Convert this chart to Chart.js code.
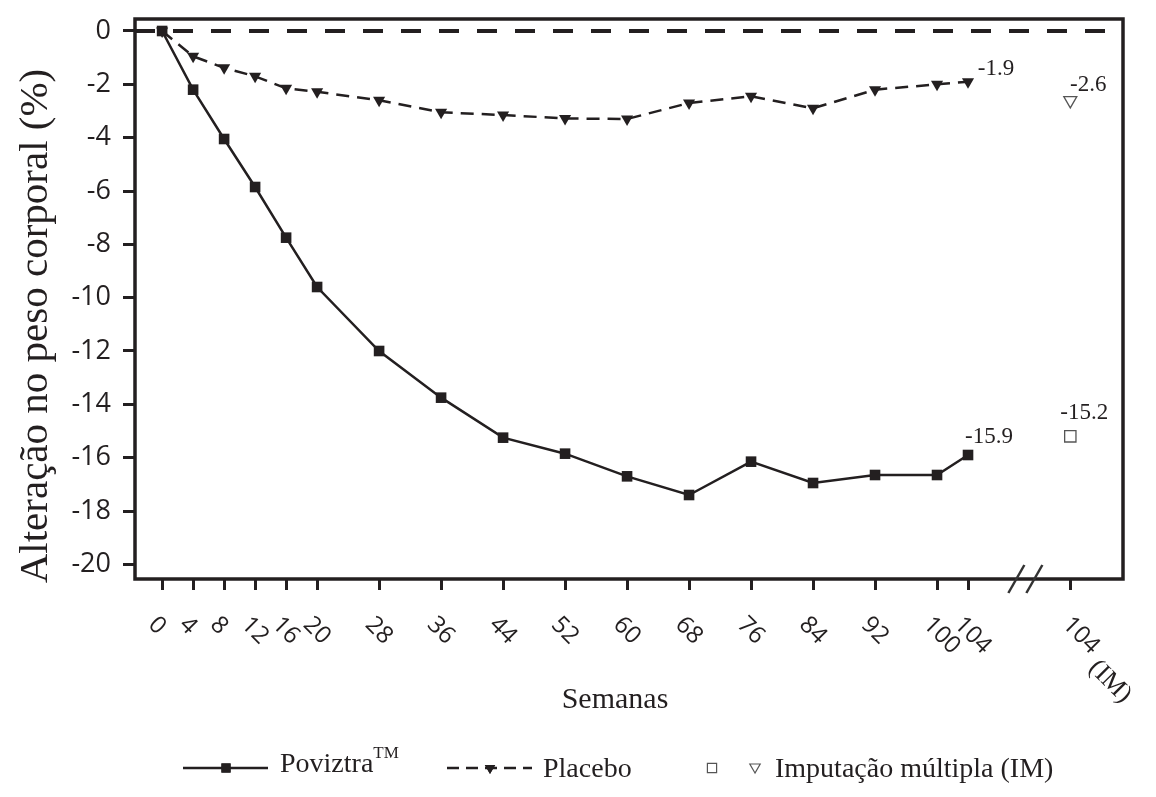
<!DOCTYPE html>
<html lang="pt">
<head>
<meta charset="utf-8">
<title>Alteração no peso corporal</title>
<script src="https://cdn.jsdelivr.net/npm/chart.js@4.4.1/dist/chart.umd.min.js"></script>
<style>
  html, body { margin: 0; padding: 0; background: #fff; }
  #wrap { width: 1156px; height: 797px; }
</style>
</head>
<body>
<div id="wrap"><canvas id="chart" width="1156" height="797"></canvas></div>
<script>
// Data
const weeks = [0, 4, 8, 12, 16, 20, 28, 36, 44, 52, 60, 68, 76, 84, 92, 100, 104];
const poviztra = [0, -2.2, -4.05, -5.85, -7.75, -9.6, -12.0, -13.75, -15.25, -15.85, -16.7, -17.4, -16.15, -16.95, -16.65, -16.65, -15.9];
const placebo = [0, -0.95, -1.38, -1.7, -2.15, -2.28, -2.6, -3.05, -3.15, -3.28, -3.3, -2.7, -2.45, -2.9, -2.2, -2.0, -1.9];
const imPoviztra = -15.2;
const imPlacebo = -2.6;
const imWeek = 117.2;      // the "104 (IM)" column on the week axis
const breakWeek = 111.4;   // axis break marks
const xTickValues = weeks.concat([imWeek]);
const xTickLabels = weeks.map(String).concat(['104']);
const yTickValues = [0, -2, -4, -6, -8, -10, -12, -14, -16, -18, -20];

const INK = '#231f20';
const SERIF = '"Liberation Serif", "Times New Roman", serif';
const SANS = '"Open Sans", sans-serif';

const pts = (xs, ys) => xs.map((x, i) => ({ x: x, y: ys[i] }));

// dashed zero line, frame, break marks, rotated week labels, titles, legend
const decorations = {
    id: 'decorations',
    beforeDatasetsDraw(chart) {
        const { ctx, chartArea } = chart;
        const y0 = chart.scales.y.getPixelForValue(0);
        ctx.save();
        ctx.strokeStyle = INK;
        ctx.lineWidth = 4;
        ctx.setLineDash([20, 18]);
        ctx.beginPath();
        ctx.moveTo(chartArea.left, y0);
        ctx.lineTo(chartArea.right, y0);
        ctx.stroke();
        ctx.restore();
    },
    afterDraw(chart) {
        const { ctx, chartArea } = chart;
        const xs = chart.scales.x;
        ctx.save();

        // frame
        ctx.strokeStyle = INK;
        ctx.lineWidth = 3.5;
        ctx.strokeRect(chartArea.left, chartArea.top, chartArea.right - chartArea.left, chartArea.bottom - chartArea.top);

        // axis break
        const bx = xs.getPixelForValue(breakWeek);
        const by = chartArea.bottom;
        ctx.lineWidth = 2.5;
        ctx.strokeStyle = '#333';
        [-9, 9].forEach(off => {
            ctx.beginPath();
            ctx.moveTo(bx + off - 8, by + 14);
            ctx.lineTo(bx + off + 8, by - 14);
            ctx.stroke();
        });

        // rotated week labels
        ctx.fillStyle = INK;
        xTickValues.forEach((v, i) => {
            const px = xs.getPixelForValue(v);
            const shift = v === imWeek ? 6 : 0;
            ctx.save();
            ctx.translate(px - 10 + shift, chartArea.bottom + 42);
            ctx.rotate(Math.PI / 4);
            ctx.font = '24px ' + SANS;
            ctx.textAlign = 'left';
            ctx.textBaseline = 'middle';
            ctx.fillText(xTickLabels[i], 0, 0);
            if (v === imWeek) {
                const w = ctx.measureText(xTickLabels[i]).width;
                ctx.font = '26px ' + SERIF;
                ctx.fillText('(IM)', w + 8, 12);
            }
            ctx.restore();
        });

        // value labels next to the last points
        const valueLabels = [
            { ds: 0, dx: 21, dy: -12 },
            { ds: 1, dx: 28, dy: -7 },
            { ds: 2, dx: 14, dy: -17 },
            { ds: 3, dx: 18, dy: -9 }
        ];
        ctx.font = '23px ' + SERIF;
        ctx.textAlign = 'center';
        ctx.textBaseline = 'alphabetic';
        valueLabels.forEach(l => {
            const meta = chart.getDatasetMeta(l.ds);
            const el = meta.data[meta.data.length - 1];
            const data = chart.data.datasets[l.ds].data;
            const val = data[data.length - 1].y;
            ctx.fillText(val.toFixed(1), el.x + l.dx, el.y + l.dy);
        });

        // axis titles
        ctx.font = '30px ' + SERIF;
        ctx.fillText('Semanas', 615, 708);
        ctx.save();
        ctx.translate(47, 326);
        ctx.rotate(-Math.PI / 2);
        ctx.font = '41px ' + SERIF;
        ctx.fillText('Alteração no peso corporal (%)', 0, 0);
        ctx.restore();

        // legend
        const ly = 768;
        ctx.strokeStyle = INK;
        ctx.lineWidth = 2.5;
        ctx.beginPath();
        ctx.moveTo(183, ly); ctx.lineTo(268, ly);
        ctx.stroke();
        ctx.setLineDash([12, 7]);
        ctx.beginPath();
        ctx.moveTo(447, ly); ctx.lineTo(532, ly);
        ctx.stroke();
        ctx.setLineDash([]);

        const drawPoint = Chart.helpers.drawPoint;
        ctx.fillStyle = INK;
        drawPoint(ctx, { pointStyle: 'rect', radius: 6.5, rotation: 0, borderWidth: 0 }, 226, ly);
        ctx.fill();
        drawPoint(ctx, { pointStyle: 'triangle', radius: 6, rotation: 180, borderWidth: 0 }, 490, ly);
        ctx.fill();
        ctx.fillStyle = '#fff';
        ctx.strokeStyle = '#555';
        ctx.lineWidth = 1.2;
        drawPoint(ctx, { pointStyle: 'rect', radius: 6.5, rotation: 0, borderWidth: 1.2 }, 712, ly);
        drawPoint(ctx, { pointStyle: 'triangle', radius: 6, rotation: 180, borderWidth: 1.2 }, 755, ly - 1);

        ctx.fillStyle = INK;
        ctx.textAlign = 'left';
        ctx.font = '28px ' + SERIF;
        ctx.fillText('Poviztra', 280, 772);
        const pw = ctx.measureText('Poviztra').width;
        ctx.font = '17px ' + SERIF;
        ctx.fillText('TM', 280 + pw, 758);
        ctx.font = '28px ' + SERIF;
        ctx.fillText('Placebo', 543, 777);
        ctx.fillText('Imputação múltipla (IM)', 775, 777);

        ctx.restore();
    }
};

new Chart(document.getElementById('chart'), {
    type: 'line',
    data: {
        datasets: [
            {
                label: 'Poviztra',
                data: pts(weeks, poviztra),
                borderColor: INK,
                backgroundColor: INK,
                borderWidth: 2.5,
                pointStyle: 'rect',
                pointRadius: 7.5,
                pointBorderWidth: 0,
                tension: 0
            },
            {
                label: 'Placebo',
                data: pts(weeks, placebo),
                borderColor: INK,
                backgroundColor: INK,
                borderWidth: 2.5,
                borderDash: [13, 8],
                pointStyle: 'triangle',
                pointRotation: 180,
                pointRadius: 7,
                pointBorderWidth: 0,
                tension: 0
            },
            {
                label: 'Poviztra (IM)',
                data: [{ x: imWeek, y: imPoviztra }],
                showLine: false,
                pointStyle: 'rect',
                pointRadius: 8,
                pointBackgroundColor: '#fff',
                pointBorderColor: '#555',
                pointBorderWidth: 1.3
            },
            {
                label: 'Placebo (IM)',
                data: [{ x: imWeek, y: imPlacebo }],
                showLine: false,
                pointStyle: 'triangle',
                pointRotation: 180,
                pointRadius: 7.5,
                pointBackgroundColor: '#fff',
                pointBorderColor: '#555',
                pointBorderWidth: 1.3
            }
        ]
    },
    options: {
        responsive: false,
        animation: false,
        devicePixelRatio: 1,
        layout: { padding: { left: 0, top: 19, right: 33, bottom: 0 } },
        plugins: { legend: { display: false }, tooltip: { enabled: false } },
        scales: {
            x: {
                type: 'linear',
                min: -3.5,
                max: 124,
                afterBuildTicks: scale => { scale.ticks = xTickValues.map(v => ({ value: v })); },
                afterFit: scale => { scale.height = 218; scale.paddingLeft = 0; scale.paddingRight = 0; },
                ticks: { display: false },
                border: { display: false },
                grid: { drawOnChartArea: false, drawTicks: true, tickLength: 11, tickWidth: 3, tickColor: INK }
            },
            y: {
                type: 'linear',
                min: -20.55,
                max: 0.45,
                afterBuildTicks: scale => { scale.ticks = yTickValues.map(v => ({ value: v })); },
                afterFit: scale => { scale.width = 135; scale.paddingTop = 0; scale.paddingBottom = 0; },
                ticks: { color: INK, font: { family: SANS, size: 27 }, padding: 12 },
                border: { display: false },
                grid: { drawOnChartArea: false, drawTicks: true, tickLength: 12, tickWidth: 3, tickColor: INK }
            }
        }
    },
    plugins: [decorations]
});
</script>
</body>
</html>
